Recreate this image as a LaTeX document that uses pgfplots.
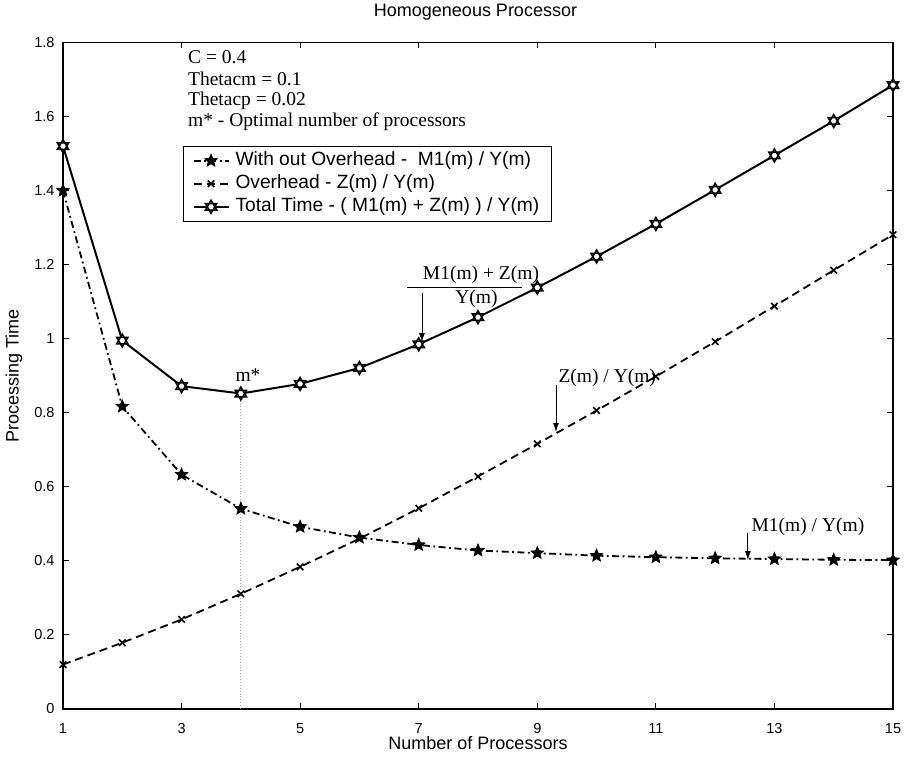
\documentclass[border=0pt]{standalone}
\usepackage{fontspec}
\setmainfont{Liberation Sans}
\newfontfamily\serif{Liberation Serif}
\usepackage{pgfplots}
\pgfplotsset{compat=1.18}
\usetikzlibrary{arrows.meta}
\pgfdeclareplotmark{fstar}{%
  \pgfpathmoveto{\pgfpointpolar{90}{\pgfplotmarksize}}%
  \pgfpathlineto{\pgfpointpolar{126}{0.45\pgfplotmarksize}}%
  \pgfpathlineto{\pgfpointpolar{162}{\pgfplotmarksize}}%
  \pgfpathlineto{\pgfpointpolar{198}{0.45\pgfplotmarksize}}%
  \pgfpathlineto{\pgfpointpolar{234}{\pgfplotmarksize}}%
  \pgfpathlineto{\pgfpointpolar{270}{0.45\pgfplotmarksize}}%
  \pgfpathlineto{\pgfpointpolar{306}{\pgfplotmarksize}}%
  \pgfpathlineto{\pgfpointpolar{342}{0.45\pgfplotmarksize}}%
  \pgfpathlineto{\pgfpointpolar{18}{\pgfplotmarksize}}%
  \pgfpathlineto{\pgfpointpolar{54}{0.45\pgfplotmarksize}}%
  \pgfpathclose\pgfusepathqfillstroke}
\pgfdeclareplotmark{hexa}{%
  \pgfsetfillcolor{white}%
  \pgfpathmoveto{\pgfpointpolar{90}{\pgfplotmarksize}}%
  \pgfpathlineto{\pgfpointpolar{210}{\pgfplotmarksize}}%
  \pgfpathlineto{\pgfpointpolar{330}{\pgfplotmarksize}}%
  \pgfpathclose
  \pgfpathmoveto{\pgfpointpolar{270}{\pgfplotmarksize}}%
  \pgfpathlineto{\pgfpointpolar{30}{\pgfplotmarksize}}%
  \pgfpathlineto{\pgfpointpolar{150}{\pgfplotmarksize}}%
  \pgfpathclose\pgfusepathqfillstroke}
\begin{document}
\begin{tikzpicture}
\useasboundingbox (0,0) rectangle (905pt,760pt);
\begin{axis}[
  scale only axis, width=830pt, height=666.5pt,
  at={(63pt,51pt)}, anchor=south west,
  xmin=1, xmax=15, ymin=0, ymax=1.8,
  xtick={1,3,5,7,9,11,13,15},
  ytick={0,0.2,0.4,0.6,0.8,1,1.2,1.4,1.6,1.8},
  yticklabels={0,0.2,0.4,0.6,0.8,1,1.2,1.4,1.6,1.8},
  /pgf/number format/assume math mode=true,
  tick label style={font=\fontsize{14.5}{16}\selectfont},
  xticklabel style={yshift=-11pt},
  yticklabel style={xshift=-5pt},
  major tick length=6pt,
  tick style={black, line width=1pt},
  axis line style={line width=1.4pt},
  title={Homogeneous Processor},
  title style={at={(axis description cs:0.497,1.0368)}, anchor=center, font=\fontsize{18}{20}\selectfont},
  xlabel={Number of Processors},
  xlabel style={at={(axis description cs:0.5,-0.051)}, anchor=center, font=\fontsize{18}{20}\selectfont},
  ylabel={Processing Time},
  ylabel style={at={(axis description cs:-0.059,0.5)}, anchor=center, font=\fontsize{18}{20}\selectfont},
  clip=false,
  legend cell align=left,
  legend image code/.code={\draw[mark repeat=2,mark phase=2,#1] plot coordinates {(0pt,0pt) (17.5pt,0pt) (35pt,0pt)};},
  legend style={at={(rel axis cs:0.1446,0.8447)}, anchor=north west, draw=black, line width=1pt,
    font=\fontsize{19.2}{21}\selectfont, inner xsep=9pt, inner ysep=2.75pt, row sep=0pt, column sep=3pt,
    nodes={inner xsep=3pt, inner ysep=2.75pt, text height=13.5pt, text depth=4pt}},
]
\addplot[black, line width=1.8pt, dash pattern=on 7pt off 3.5pt on 1.8pt off 3.5pt, mark=fstar, mark size=6.5pt, mark options={solid, line width=0.8pt, fill=black}]
coordinates {(1,1.4) (2,0.817) (3,0.633) (4,0.541) (5,0.492) (6,0.463) (7,0.443) (8,0.428) (9,0.421) (10,0.414) (11,0.410) (12,0.407) (13,0.405) (14,0.403) (15,0.402)};
\addlegendentry{With out Overhead - \ M1(m) / Y(m)}
\addplot[black, line width=1.8pt, dash pattern=on 8pt off 5pt, mark=x, mark size=4.6pt, mark options={solid, line width=1.6pt}]
coordinates {(1,0.12) (2,0.179) (3,0.242) (4,0.311) (5,0.384) (6,0.46) (7,0.542) (8,0.628) (9,0.716) (10,0.806) (11,0.898) (12,0.992) (13,1.088) (14,1.185) (15,1.281)};
\addlegendentry{Overhead - Z(m) / Y(m)}
\addplot[black, line width=2pt, mark=hexa, mark size=6.5pt, mark options={solid, line width=1.5pt}]
coordinates {(1,1.52) (2,0.995) (3,0.872) (4,0.852) (5,0.878) (6,0.921) (7,0.985) (8,1.058) (9,1.138) (10,1.222) (11,1.31) (12,1.402) (13,1.495) (14,1.588) (15,1.685)};
\addlegendentry{Total Time - ( M1(m) + Z(m) ) / Y(m)}
\addplot[gray!70, line width=0.9pt, dotted, forget plot] coordinates {(4,0) (4,0.852)};
\begin{scope}[font=\serif\fontsize{19.5}{22}\selectfont]
\node[anchor=west, inner sep=0pt] at (axis cs:3.108,1.761) {C = 0.4};
\node[anchor=west, inner sep=0pt] at (axis cs:3.108,1.701) {Thetacm = 0.1};
\node[anchor=west, inner sep=0pt] at (axis cs:3.108,1.642) {Thetacp = 0.02};
\node[anchor=west, inner sep=0pt] at (axis cs:3.108,1.585) {m* - Optimal number of processors};
\node[inner sep=0pt] at (axis cs:4.12,0.902) {m*};
\node[inner sep=0pt] at (axis cs:8.05,1.172) {M1(m) + Z(m)};
\draw[line width=1pt] (axis cs:6.802,1.1396) -- (axis cs:8.742,1.1396);
\node[inner sep=0pt] at (axis cs:7.974,1.107) {Y(m)};
\draw[line width=0.9pt, -{Latex[length=9pt,width=6pt]}] (axis cs:7.055,1.123) -- (axis cs:7.055,0.991);
\node[inner sep=0pt] at (axis cs:10.18,0.894) {Z(m) / Y(m)};
\draw[line width=0.9pt, -{Latex[length=9pt,width=6pt]}] (axis cs:9.315,0.875) -- (axis cs:9.315,0.748);
\node[inner sep=0pt] at (axis cs:13.565,0.4915) {M1(m) / Y(m)};
\draw[line width=0.9pt, -{Latex[length=9pt,width=6pt]}] (axis cs:12.553,0.475) -- (axis cs:12.553,0.402);
\end{scope}
\end{axis}
\end{tikzpicture}
\end{document}
